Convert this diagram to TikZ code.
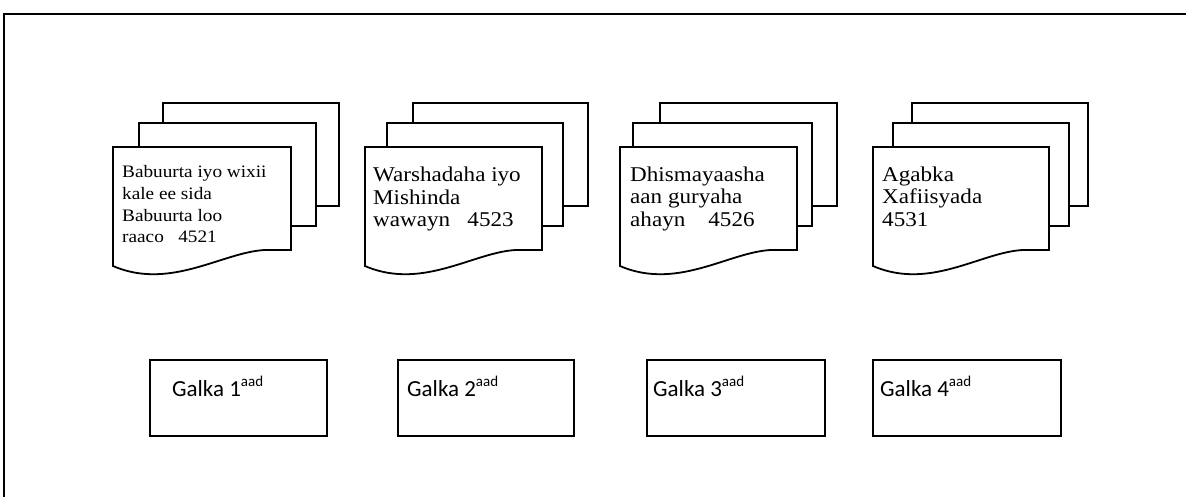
\documentclass[tikz,border=0pt]{standalone}
\usepackage{fontspec}
\setmainfont[FakeStretch=1.1]{Liberation Serif}
\newfontfamily\galkafont{Carlito}
\usetikzlibrary{positioning}

\tikzset{
  frameline/.style={line width=2.4pt},
  pageline/.style={line width=1.8pt,fill=white},
  doctext/.style={anchor=base west,inner sep=0pt,align=left,font=\fontsize{21}{22.5}\selectfont},
  galkatext/.style={anchor=base west,inner sep=0pt,font=\galkafont\fontsize{23}{26}\selectfont}
}
\newcommand{\aadmark}{\raisebox{0.42em}{\fontsize{15}{15}\selectfont aad}}

\begin{document}
\begin{tikzpicture}[x=1pt,y=-1pt]
        \useasboundingbox (0,0) rectangle (1186,497);
        \draw[frameline] (4,497) -- (4,14) -- (1186,14);
        % three sheets per document, back one first
        \foreach \fl/\fr/\ml/\mr/\bl/\br in {113/291/139/316/163/339,365/542/387/563/413/588,620/797/633/812/660/837,873/1049/893/1069/912/1088} {
          \draw[pageline] (\bl,103) rectangle (\br,206);
          \draw[pageline] (\ml,123) rectangle (\mr,226);
          \draw[pageline] (\fl,147) -- (\fr,147) -- (\fr,250) -- ++(-20,0)
            .. controls +(-43,-2) and +(60,26) .. (\fl,266) -- cycle;
        }
        % base anchor sits on the last line
        \node[doctext,font=\fontsize{17.5}{21.7}\selectfont] (doc1) at (122,243)
          {Babuurta iyo wixii\\kale ee sida\\Babuurta loo\\raaco\ \ \ 4521};
        \node[doctext] (doc2) at (373,227) {Warshadaha iyo\\Mishinda\\wawayn\ \ \ 4523};
        \node[doctext] (doc3) at (630,226) {Dhismayaasha\\aan guryaha\\ahayn\ \ \ \ 4526};
        \node[doctext] (doc4) at (882,226) {Agabka\\Xafiisyada\\4531};
        % the four boxes
        \foreach \l/\r in {150/327,398/574,647/825,873/1061} {
          \draw[pageline] (\l,360) rectangle (\r,436);
        }
        \node[galkatext] (galka1) at (172,396) {Galka 1\aadmark};
        \node[galkatext] (galka2) at (407,396) {Galka 2\aadmark};
        \node[galkatext] (galka3) at (653,396) {Galka 3\aadmark};
        \node[galkatext] (galka4) at (880,396) {Galka 4\aadmark};
      \end{tikzpicture}
\end{document}
